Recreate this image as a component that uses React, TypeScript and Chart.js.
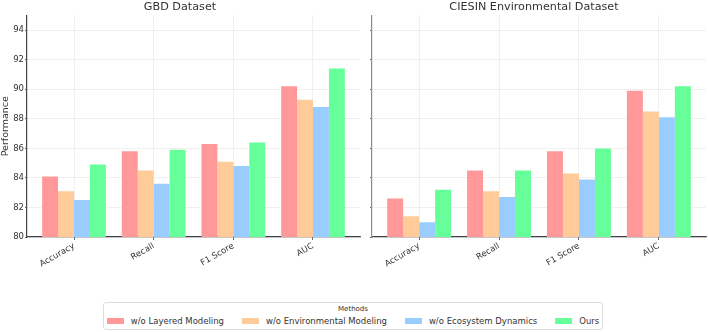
import React, { useEffect, useRef } from "react";
import { Chart, registerables } from "chart.js";

Chart.register(...registerables);

// Metrics on the x axis
const CATEGORIES = ["Accuracy", "Recall", "F1 Score", "AUC"];

// Method variants (legend order)
const METHODS = [
  "w/o Layered Modeling",
  "w/o Environmental Modeling",
  "w/o Ecosystem Dynamics",
  "Ours",
];
const METHOD_COLORS = ["#ff9999", "#ffcc99", "#99ccff", "#66ff99"];

// GBD Dataset scores, one array per method (Accuracy, Recall, F1 Score, AUC)
const GBD_LAYERED = [84.1, 85.8, 86.3, 90.2];
const GBD_ENVIRONMENTAL = [83.1, 84.5, 85.1, 89.3];
const GBD_ECOSYSTEM = [82.5, 83.6, 84.8, 88.8];
const GBD_OURS = [84.9, 85.9, 86.4, 91.4];

// CIESIN Environmental Dataset scores
const CIESIN_LAYERED = [82.6, 84.5, 85.8, 89.9];
const CIESIN_ENVIRONMENTAL = [81.4, 83.1, 84.3, 88.5];
const CIESIN_ECOSYSTEM = [81.0, 82.7, 83.9, 88.1];
const CIESIN_OURS = [83.2, 84.5, 86.0, 90.2];

// Shared y range and ticks
const Y_MIN = 80;
const Y_MAX = 95;
const Y_STEP = 2;

const FONT = "'DejaVu Sans', sans-serif";
const TEXT = "#333333";
const GRID = "rgba(190,190,190,0.55)";

Chart.defaults.font.family = FONT;
Chart.defaults.color = TEXT;

type PanelProps = {
  title: string;
  series: number[][];
  showYLabels: boolean;
  width: number;
  axisWidth: number;
  spineColor: string;
};

function Panel({ title, series, showYLabels, width, axisWidth, spineColor }: PanelProps) {
  const ref = useRef<HTMLCanvasElement | null>(null);

  useEffect(() => {
    if (!ref.current) return;
    const datasets = series.map((values, k) => ({
      label: METHODS[k],
      data: values.map((v, i) => ({ x: i, y: v })),
      backgroundColor: METHOD_COLORS[k],
      borderWidth: 0,
      categoryPercentage: 0.8,
      barPercentage: 1.0,
    }));

    const chart = new Chart(ref.current, {
      type: "bar",
      data: { datasets },
      options: {
        animation: false,
        responsive: false,
        devicePixelRatio: 1,
        layout: { padding: { left: 0, right: 2, top: 0, bottom: 0 } },
        plugins: {
          legend: { display: false },
          tooltip: { enabled: false },
          title: {
            display: true,
            text: title,
            color: TEXT,
            font: { size: 11.2, weight: "normal", family: FONT },
            padding: { top: 0, bottom: 2 },
          },
        },
        scales: {
          x: {
            type: "linear",
            offset: false,
            min: -0.59,
            max: CATEGORIES.length - 1 + 0.59,
            afterBuildTicks: (scale: any) => {
              scale.ticks = CATEGORIES.map((_, i) => ({ value: i }));
            },
            afterFit: (scale: any) => {
              scale.height = 53;
            },
            grid: {
              display: true,
              offset: false,
              color: GRID,
              lineWidth: 0.8,
              drawTicks: true,
              tickLength: 3,
              tickColor: "#444444",
            },
            border: { display: true, color: "#444444", width: 1.2, dash: [1, 1] },
            ticks: {
              autoSkip: false,
              minRotation: 30,
              maxRotation: 30,
              padding: 1,
              color: TEXT,
              font: { size: 8.5, family: FONT },
              callback: (value: any) => CATEGORIES[Math.round(Number(value))] ?? "",
            },
          },
          y: {
            type: "linear",
            min: Y_MIN,
            max: Y_MAX,
            afterFit: (scale: any) => {
              scale.width = axisWidth;
            },
            title: {
              display: showYLabels,
              text: "Performance",
              color: TEXT,
              font: { size: 9.5, family: FONT },
              padding: { top: 0, bottom: 0 },
            },
            grid: {
              display: true,
              color: GRID,
              lineWidth: 0.8,
              drawTicks: true,
              tickLength: 2,
              tickColor: "#444444",
            },
            border: { display: true, color: spineColor, width: 1.2, dash: [1, 1] },
            ticks: {
              stepSize: Y_STEP,
              includeBounds: false,
              padding: 1,
              color: TEXT,
              font: { size: 8.5, family: FONT },
              callback: (value: any) => (showYLabels ? String(value) : ""),
            },
          },
        },
      } as any,
    });
    return () => chart.destroy();
  }, [title, series, showYLabels, axisWidth, spineColor]);

  return <canvas ref={ref} width={width} height={290} style={{ width, height: 290, display: "block" }} />;
}

function Legend() {
  return (
    <div
      style={{
        position: "absolute",
        left: 103,
        top: 302,
        width: 500,
        height: 28,
        boxSizing: "border-box",
        border: "1px solid #dcdcdc",
        borderRadius: 3,
        background: "#ffffff",
        fontFamily: FONT,
        color: TEXT,
      }}
    >
      <div style={{ textAlign: "center", fontSize: 7, lineHeight: "8px", marginTop: 2 }}>Methods</div>
      <div
        style={{
          display: "flex",
          alignItems: "center",
          justifyContent: "center",
          gap: 18,
          marginTop: 3,
          fontSize: 8.5,
          lineHeight: "10px",
          whiteSpace: "nowrap",
        }}
      >
        {METHODS.map((m, k) => (
          <div key={m} style={{ display: "flex", alignItems: "center" }}>
            <span
              style={{
                display: "inline-block",
                width: 17,
                height: 6,
                background: METHOD_COLORS[k],
                marginRight: 7,
              }}
            />
            <span>{m}</span>
          </div>
        ))}
      </div>
    </div>
  );
}

export default function App() {
  const gbd = [GBD_LAYERED, GBD_ENVIRONMENTAL, GBD_ECOSYSTEM, GBD_OURS];
  const ciesin = [CIESIN_LAYERED, CIESIN_ENVIRONMENTAL, CIESIN_ECOSYSTEM, CIESIN_OURS];
  return (
    <div
      style={{
        position: "fixed",
        left: 0,
        top: 0,
        width: 708,
        height: 332,
        background: "#ffffff",
        overflow: "hidden",
      }}
    >
      <div style={{ position: "absolute", left: 0, top: 0 }}>
        <Panel title="GBD Dataset" series={gbd} showYLabels={true} width={362} axisWidth={27} spineColor="#444444" />
      </div>
      <div style={{ position: "absolute", left: 362, top: 0 }}>
        <Panel
          title="CIESIN Environmental Dataset"
          series={ciesin}
          showYLabels={false}
          width={346}
          axisWidth={10}
          spineColor="#8c8c8c"
        />
      </div>
      <Legend />
    </div>
  );
}
